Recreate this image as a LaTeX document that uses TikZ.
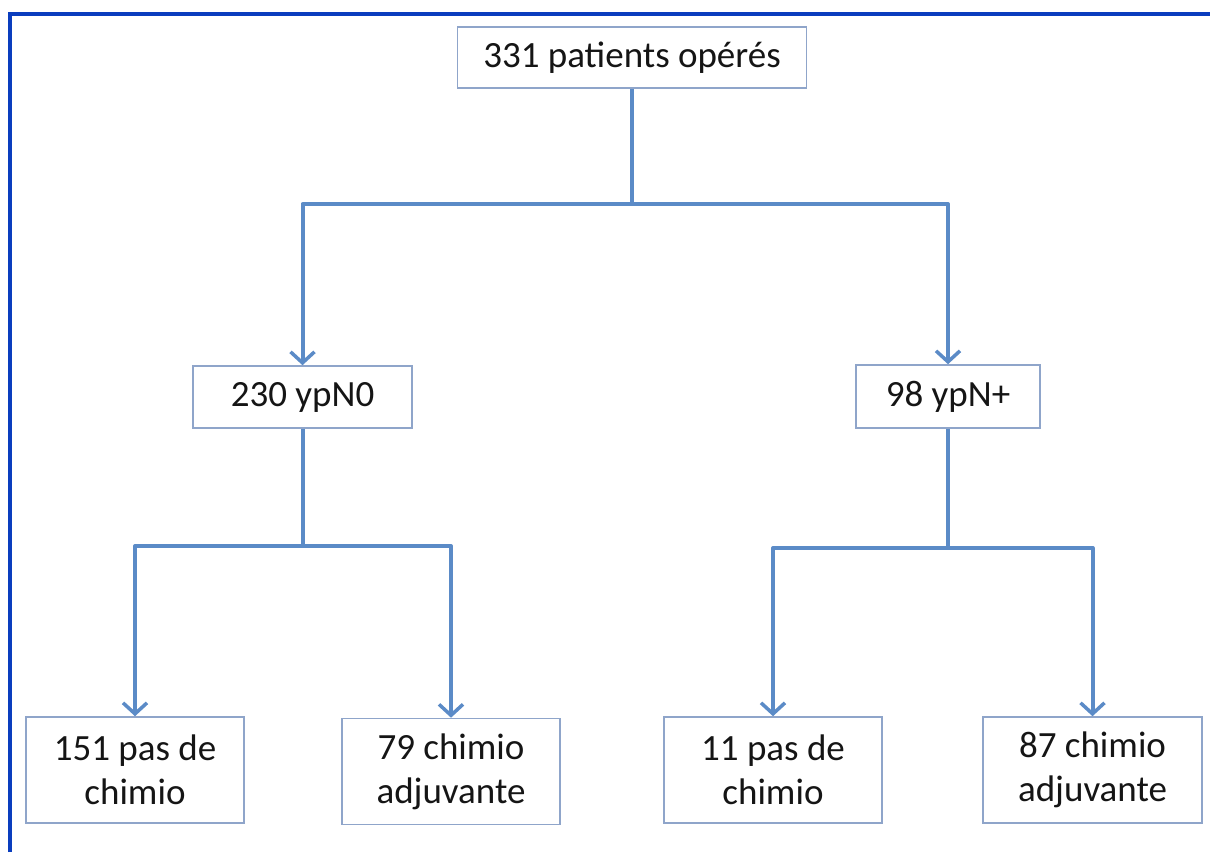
\documentclass[tikz,border=0pt]{standalone}
\usepackage{fontspec}
\setmainfont{Carlito}
\usetikzlibrary{arrows.meta}
\definecolor{framebl}{HTML}{0A3DBE}
\definecolor{linebl}{HTML}{5B8BC7}
\definecolor{boxbd}{HTML}{8FA5CA}
\definecolor{txt}{HTML}{151515}
\tikzset{
  box/.style={draw=boxbd, line width=1.6pt, fill=white, text=txt, inner sep=0pt,
    font=\fontsize{37}{44}\selectfont, align=center},
  conn/.style={draw=linebl, line width=4pt, line join=round},
  arr/.style={conn, -{Straight Barb[length=11pt,width=24pt,line width=3.5pt]}},
}
\begin{document}
\begin{tikzpicture}[x=1pt,y=-1pt]
\fill[white] (0,0) rectangle (1210,852);
\useasboundingbox (0,0) rectangle (1210,852);
\draw[framebl, line width=4pt] (10,852) -- (10,14) -- (1210,14);

\node[box, minimum width=349pt, minimum height=61pt] (top) at (632,57.5) {331 patients opérés};
\node[box, minimum width=219pt, minimum height=62pt] (A) at (302.5,397) {230 ypN0};
\node[box, minimum width=184pt, minimum height=63pt] (B) at (948,396.5) {98 ypN+};
\node[box, minimum width=218pt, minimum height=106pt] (C) at (135,770) {151 pas de\\chimio};
\node[box, minimum width=218pt, minimum height=106pt] (D) at (451,771.5) {79 chimio\\adjuvante};
\node[box, minimum width=218pt, minimum height=106pt] (E) at (773,770) {11 pas de\\chimio};
\node[box, minimum width=219pt, minimum height=106pt] (F) at (1092.5,770) {87 chimio\\adjuvante};

\coordinate (j1) at (632,204);
\coordinate (j2) at (302.5,546);
\coordinate (j3) at (948,548);

\draw[conn] (top.south) -- (j1);
\draw[arr] (j1) -| (A.north);
\draw[arr] (j1) -| (B.north);
\draw[conn] (A.south) -- (j2);
\draw[arr] (j2) -| (C.north);
\draw[arr] (j2) -| (D.north);
\draw[conn] (B.south) -- (j3);
\draw[arr] (j3) -| (E.north);
\draw[arr] (j3) -| (F.north);
\end{tikzpicture}
\end{document}
